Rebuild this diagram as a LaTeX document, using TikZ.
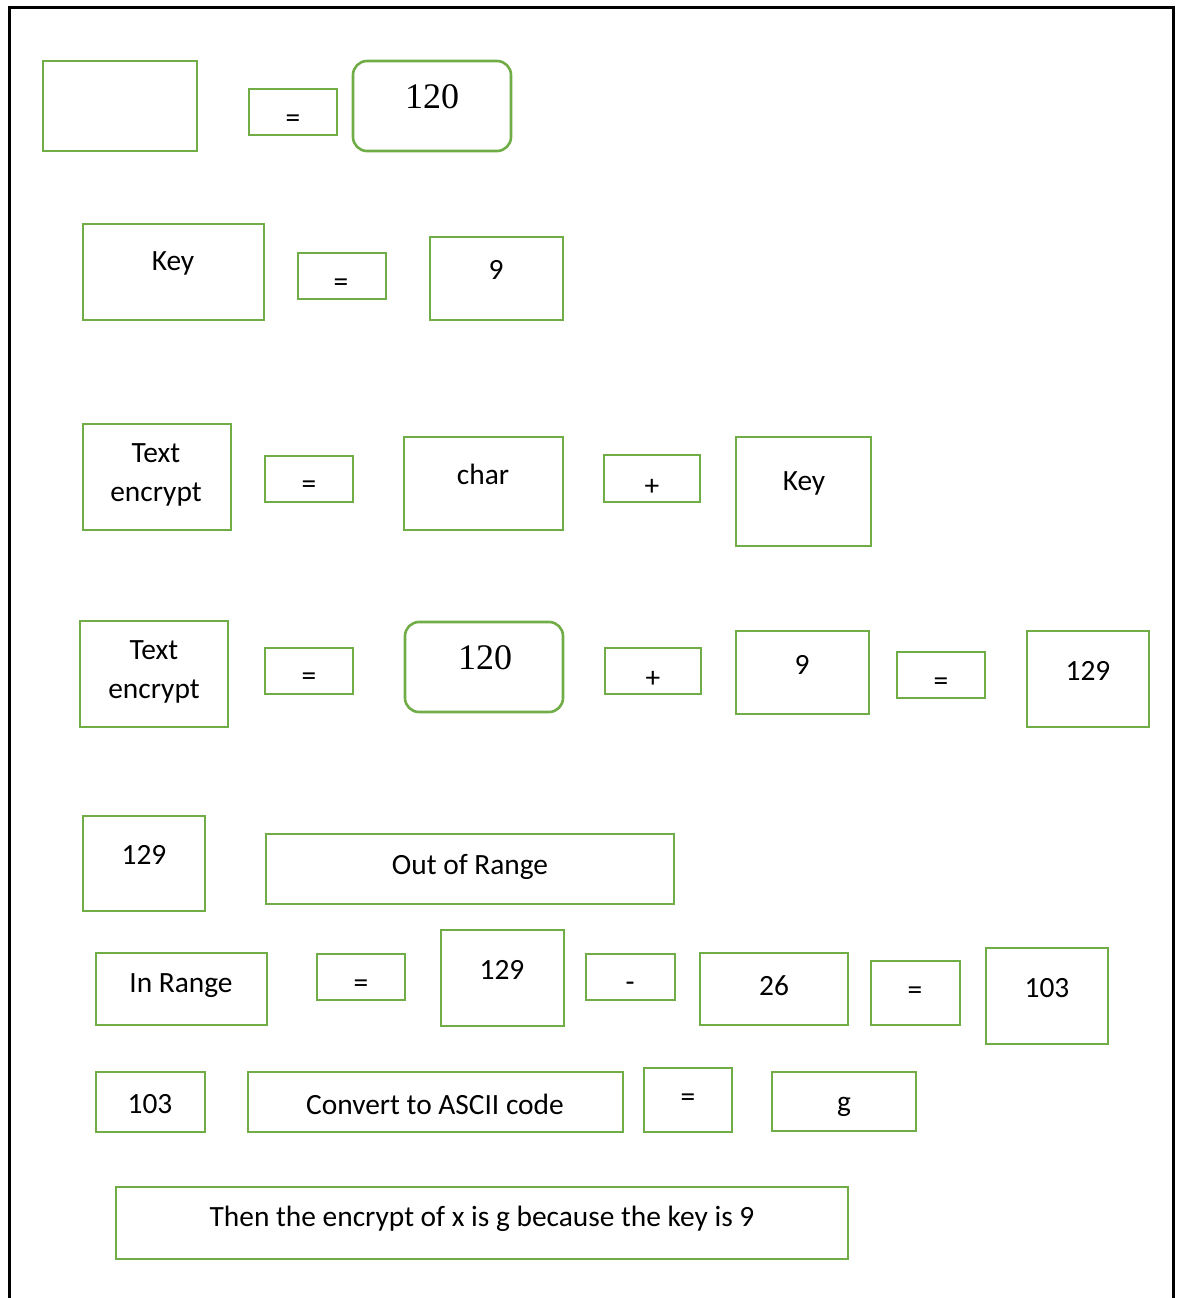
\documentclass[tikz,border=0pt]{standalone}
\usepackage{fontspec}
\setmainfont{Carlito}
\newfontfamily\tnr{Liberation Serif}
\definecolor{boxgreen}{HTML}{70AD47}
\tikzset{
  gbox/.style={draw=boxgreen, line width=2.6pt, fill=white},
  rbox/.style={gbox, rounded corners=14pt},
  txt/.style={inner sep=0pt, yshift=-2.5pt, font=\fontsize{29.4}{39}\selectfont, align=center},
  stxt/.style={inner sep=0pt, font=\tnr\fontsize{36}{40}\selectfont},
}
\begin{document}
\begin{tikzpicture}[x=1pt,y=-1pt]
\useasboundingbox (0,0) rectangle (1176,1298);
% outer frame (bottom edge lies outside the picture)
\draw[line width=3pt, black] (9,1310) -- (9,8) -- (1173,8) -- (1173,1310);
% row 1
\draw[gbox] (43,61) rectangle (197,151) coordinate (r1a);
\draw[gbox] (249,89) rectangle (337,135);
\node[txt] (r1eq) at (293,119) {=};
\draw[rbox] (353,61) rectangle (511,151);
\node[stxt] (r1v) at (432,97) {120};
% row 2
\draw[gbox] (83,224) rectangle (264,320);
\node[txt] (r2k) at (173,261) {Key};
\draw[gbox] (298,253) rectangle (386,299);
\node[txt] (r2eq) at (341,283) {=};
\draw[gbox] (430,237) rectangle (563,320);
\node[txt] (r2v) at (496,267) {9};
% row 3
\draw[gbox] (83,424) rectangle (231,530);
\node[txt] (r3t) at (156,472) {Text\\encrypt};
\draw[gbox] (265,456) rectangle (353,502);
\node[txt] (r3eq) at (309,485) {=};
\draw[gbox] (404,437) rectangle (563,530);
\node[txt] (r3c) at (483,472) {char};
\draw[gbox] (604,455) rectangle (700,502);
\node[txt] (r3p) at (652,485) {+};
\draw[gbox] (736,437) rectangle (871,546);
\node[txt] (r3k) at (804,481) {Key};
% row 4
\draw[gbox] (80,621) rectangle (228,727);
\node[txt] (r4t) at (154,669) {Text\\encrypt};
\draw[gbox] (265,648) rectangle (353,694);
\node[txt] (r4eq) at (309,677) {=};
\draw[rbox] (405,622) rectangle (563,712);
\node[stxt] (r4v) at (485,658) {120};
\draw[gbox] (605,648) rectangle (701,694);
\node[txt] (r4p) at (653,677) {+};
\draw[gbox] (736,631) rectangle (869,714);
\node[txt] (r4n) at (802,662) {9};
\draw[gbox] (897,652) rectangle (985,698);
\node[txt] (r4eq2) at (941,682) {=};
\draw[gbox] (1027,631) rectangle (1149,727);
\node[txt] (r4r) at (1088,668) {129};
% row 5
\draw[gbox] (83,816) rectangle (205,911);
\node[txt] (r5n) at (144,852) {129};
\draw[gbox] (266,834) rectangle (674,904);
\node[txt] (r5o) at (470,864) {Out of Range};
% row 6
\draw[gbox] (96,953) rectangle (267,1025);
\node[txt] (r6i) at (181,983) {In Range};
\draw[gbox] (317,954) rectangle (405,1000);
\node[txt] (r6eq) at (361,984) {=};
\draw[gbox] (441,930) rectangle (564,1026);
\node[txt] (r6a) at (502,967) {129};
\draw[gbox] (586,954) rectangle (675,1000);
\node[txt] (r6m) at (630,984) {-};
\draw[gbox] (700,953) rectangle (848,1025);
\node[txt] (r6b) at (774,983) {26};
\draw[gbox] (871,961) rectangle (960,1025);
\node[txt] (r6eq2) at (915,991) {=};
\draw[gbox] (986,948) rectangle (1108,1044);
\node[txt] (r6r) at (1047,986) {103};
% row 7
\draw[gbox] (96,1072) rectangle (205,1132);
\node[txt] (r7n) at (150,1102) {103};
\draw[gbox] (248,1072) rectangle (623,1132);
\node[txt] (r7c) at (435,1102) {Convert to ASCII code};
\draw[gbox] (644,1068) rectangle (732,1132);
\node[txt] (r7eq) at (688,1098) {=};
\draw[gbox] (772,1072) rectangle (916,1131);
\node[txt] (r7g) at (844,1104) {g};
% row 8
\draw[gbox] (116,1187) rectangle (848,1259);
\node[txt] (r8) at (482,1216) {Then the encrypt of x is g because the key is 9};
\end{tikzpicture}
\end{document}
